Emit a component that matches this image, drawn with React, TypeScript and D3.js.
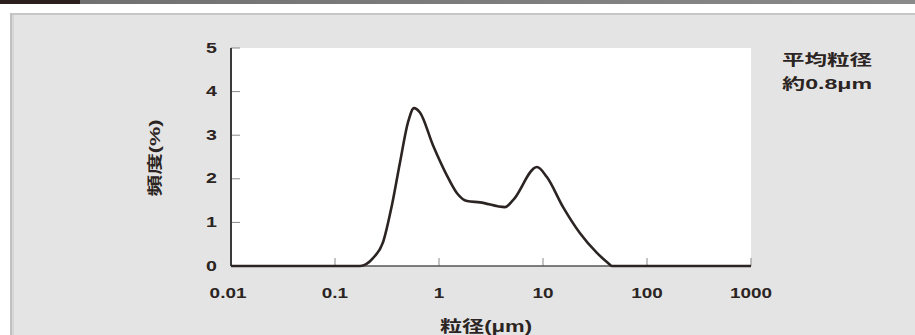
import React from 'react';
import * as d3 from 'd3';

// particle size (µm) and frequency (%)
const sizes = [0.01, 0.174, 0.232, 0.29, 0.353, 0.422, 0.504, 0.575, 0.656, 0.875, 1.19, 1.49, 1.86, 2.48, 4.31, 5.15, 8.75, 10.9, 15.6, 22.7, 33.0, 42.2, 46.0, 1000];
const freq = [0, 0, 0.18, 0.55, 1.4, 2.38, 3.3, 3.62, 3.52, 2.77, 2.08, 1.67, 1.49, 1.46, 1.35, 1.51, 2.27, 2.04, 1.35, 0.75, 0.3, 0.07, 0, 0];

const xTicks = [0.01, 0.1, 1, 10, 100, 1000];
const xTickLabels = ['0.01', '0.1', '1', '10', '100', '1000'];
const yTicks = [0, 1, 2, 3, 4, 5];

const W = 915;
const H = 335;
const plot = { left: 231, right: 751, top: 48, bottom: 266 };
const font = '"Liberation Sans", "Noto Sans CJK JP", sans-serif';
const ink = '#2b2422';

const App = () => {
  const x = d3.scaleLog().domain([0.01, 1000]).range([plot.left, plot.right]);
  const y = d3.scaleLinear().domain([0, 5]).range([plot.bottom, plot.top]);

  const line = d3.line<number>()
    .x((d, i) => x(sizes[i]))
    .y(d => y(d))
    .curve(d3.curveMonotoneX);

  return (
    <svg width={W} height={H} style={{ position: 'absolute', left: 0, top: 0 }} fontFamily={font}>
      <defs>
        <linearGradient id="topband" x1="0" x2="1" y1="0" y2="0">
          <stop offset="0" stopColor="#6e6e6e" />
          <stop offset="1" stopColor="#8a8a8a" />
        </linearGradient>
      </defs>
      <rect x={0} y={0} width={W} height={H} fill="#fff" />
      {/* header strip */}
      <rect x={0} y={0} width={W} height={4} fill="url(#topband)" />
      <rect x={0} y={0} width={80} height={4} fill="#2b201e" />

      {/* panel */}
      <rect x={10} y={13} width={W - 10} height={H - 13} fill="#e4e4e4" />
      <rect x={10} y={13} width={W - 10} height={2} fill="#c6c6c6" />
      <rect x={10} y={13} width={2} height={H - 13} fill="#c0c0c0" />
      <rect x={12} y={15} width={2} height={H - 15} fill="#d6d6d6" />

      {/* plot area */}
      <rect x={plot.left} y={plot.top} width={plot.right - plot.left} height={plot.bottom - plot.top} fill="#fff" />

      {/* ticks */}
      {yTicks.map(t => (
        <line key={'yt' + t} x1={plot.left} x2={plot.left + 9} y1={y(t)} y2={y(t)} stroke="#8a8a8a" strokeWidth={1} />
      ))}
      {xTicks.map(t => (
        <line key={'xt' + t} x1={x(t)} x2={x(t)} y1={plot.bottom} y2={plot.bottom - 8} stroke="#8a8a8a" strokeWidth={1} />
      ))}

      {/* axes */}
      <line x1={plot.left} x2={plot.right} y1={plot.bottom} y2={plot.bottom} stroke="#555" strokeWidth={1.5} />
      <line x1={plot.left} x2={plot.left} y1={plot.top} y2={plot.bottom} stroke="#3a3a3a" strokeWidth={2} />

      {/* curve */}
      <path d={line(freq) || ''} fill="none" stroke={ink} strokeWidth={2.6} strokeLinejoin="round" />

      {/* y tick labels */}
      {yTicks.map(t => (
        <text key={'yl' + t} transform={`translate(217,${y(t)}) scale(1.4,1)`} textAnchor="end"
          dominantBaseline="central" fontSize={14} fontWeight="bold" fill={ink}>
          {t}
        </text>
      ))}

      {/* x tick labels */}
      {xTicks.map((t, i) => (
        <text key={'xl' + t} transform={`translate(${i === 0 ? x(t) - 3 : x(t)},293) scale(1.35,1)`} textAnchor="middle"
          dominantBaseline="central" fontSize={14} fontWeight="bold" fill={ink}>
          {xTickLabels[i]}
        </text>
      ))}

      {/* axis titles */}
      <text transform="translate(160,158) rotate(-90)" textAnchor="middle" fontSize={15} fontWeight="bold"
        fill={ink} textLength={77} lengthAdjust="spacingAndGlyphs">
        頻度(%)
      </text>
      <text x={486} y={332} textAnchor="middle" fontSize={16} fontWeight="bold" fill={ink}
        textLength={92} lengthAdjust="spacingAndGlyphs">
        粒径(μm)
      </text>

      {/* note */}
      <text x={782} y={65} fontSize={15} fontWeight="bold" fill={ink} textLength={90} lengthAdjust="spacingAndGlyphs">
        平均粒径
      </text>
      <text x={782} y={89} fontSize={15} fontWeight="bold" fill={ink} textLength={90} lengthAdjust="spacingAndGlyphs">
        約0.8μm
      </text>
    </svg>
  );
};

export default App;
